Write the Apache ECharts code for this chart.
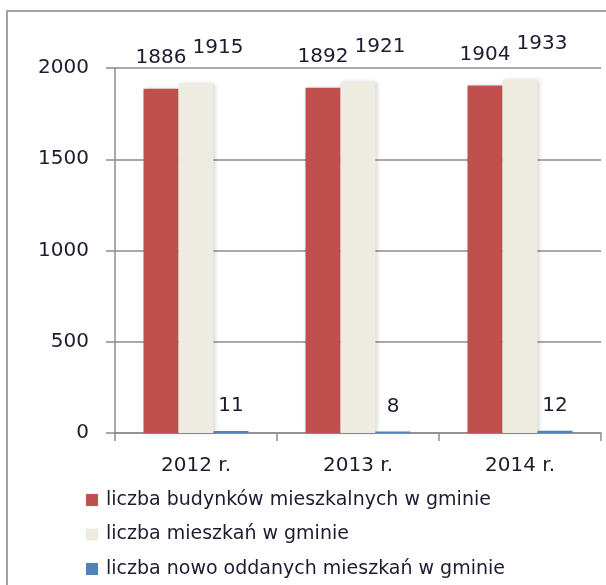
<!DOCTYPE html>
<html>
<head>
<meta charset="utf-8">
<script src="https://cdn.jsdelivr.net/npm/echarts@6/dist/echarts.min.js"></script>
<style>
  html, body { margin: 0; padding: 0; background: #fff; }
  #wykres { width: 606px; height: 585px; }
</style>
</head>
<body>
<div id="wykres"></div>
<script>
const lata = ["2012 r.", "2013 r.", "2014 r."];
const budynki = [1886, 1892, 1904];
const mieszkania = [1915, 1921, 1933];
const noweMieszkania = [11, 8, 12];
const nazwy = [
  "liczba budynków mieszkalnych w gminie",
  "liczba mieszkań w gminie",
  "liczba nowo oddanych mieszkań w gminie",
];

const kolorTekstu = "#1c1c30";
const czcionka = "DejaVu Sans";

const etykieta = (dist, off) => ({
  show: true,
  position: "top",
  distance: dist,
  offset: off,
  color: kolorTekstu,
  fontFamily: czcionka,
  fontSize: 20,
});

const cien = {
  shadowBlur: 4,
  shadowColor: "rgba(0,0,0,0.18)",
  shadowOffsetX: 1,
  shadowOffsetY: 0,
};

const getOptionChart = () => {
  return {
    animation: false,
    backgroundColor: "#fff",
    textStyle: { fontFamily: czcionka },
    graphic: [
      {
        type: "rect",
        shape: { x: 7, y: 11, width: 700, height: 700 },
        style: { fill: null, stroke: "#a3a3a3", lineWidth: 2 },
        z: 0,
      },
    ],
    grid: { left: 115, right: 5, top: 68, bottom: 152 },
    legend: {
      orient: "vertical",
      left: 86,
      top: 490,
      height: 120,
      padding: 0,
      itemWidth: 12,
      itemHeight: 12,
      itemGap: 14.5,
      icon: "rect",
      textStyle: {
        color: kolorTekstu,
        fontFamily: czcionka,
        fontSize: 19,
        lineHeight: 20,
        padding: [0, 0, 0, 3],
      },
      data: nazwy,
    },
    xAxis: {
      type: "category",
      data: lata,
      axisLine: { lineStyle: { color: "#8c8c8c", width: 1.5 } },
      axisTick: { show: true, length: 8, lineStyle: { color: "#8c8c8c", width: 1.5 } },
      axisLabel: { color: kolorTekstu, fontFamily: czcionka, fontSize: 20, margin: 23 },
    },
    yAxis: {
      type: "value",
      min: 0,
      max: 2000,
      interval: 500,
      axisLine: { show: true, lineStyle: { color: "#8c8c8c", width: 1.5 } },
      axisTick: { show: true, length: 9, lineStyle: { color: "#8c8c8c", width: 1.5 } },
      splitLine: { lineStyle: { color: "#8c8c8c", width: 1.5 } },
      axisLabel: {
        color: kolorTekstu,
        fontFamily: czcionka,
        fontSize: 20,
        margin: 26,
        formatter: (v) => String(v),
      },
    },
    series: [
      {
        name: nazwy[0],
        type: "bar",
        data: budynki,
        barWidth: 35,
        barGap: "0%",
        itemStyle: Object.assign({ color: "#c0504d" }, cien),
        label: etykieta(21, [0, 0]),
      },
      {
        name: nazwy[1],
        type: "bar",
        data: mieszkania,
        barWidth: 35,
        barGap: "0%",
        itemStyle: Object.assign({ color: "#eeece1" }, cien),
        label: etykieta(26, [22, 0]),
      },
      {
        name: nazwy[2],
        type: "bar",
        data: noweMieszkania,
        barWidth: 35,
        barGap: "0%",
        itemStyle: { color: "#4f81bd" },
        label: etykieta(15, [0, 0]),
      },
    ],
  };
};

const initCharts = () => {
  const chart = echarts.init(document.querySelector("#wykres"));
  chart.setOption(getOptionChart());
};

initCharts();
</script>
</body>
</html>
